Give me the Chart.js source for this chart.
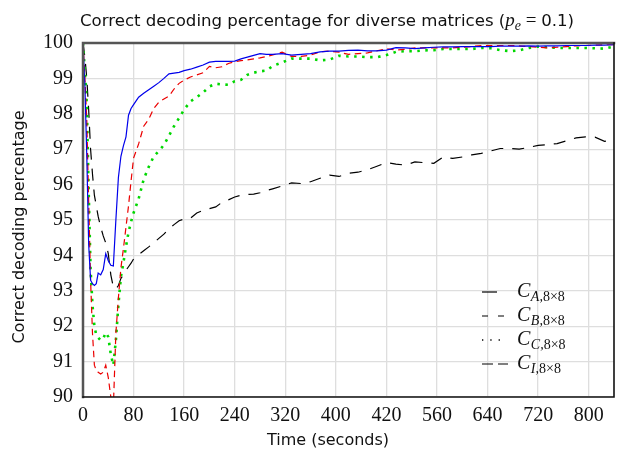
<!DOCTYPE html>
<html>
<head>
<meta charset="utf-8">
<script src="https://cdn.jsdelivr.net/npm/chart.js@4.4.1/dist/chart.umd.min.js"></script>
<style>
  html, body { margin: 0; padding: 0; background: #fff; }
  #wrap { width: 617px; height: 450px; }
</style>
</head>
<body>
<div id="wrap"><canvas id="chart1" width="617" height="450"></canvas></div>
<script>
// Tiempos de muestreo (segundos)
const times = [
    0, 3, 6, 9, 12, 15, 18, 21, 24, 28, 32, 36, 40, 44, 48, 52, 56, 60, 64, 68, 72, 76, 80,
    88, 96, 104, 112, 120, 128, 136, 144, 152, 160,
    170, 180, 190, 200, 210, 220, 230, 240, 250, 260, 270, 280, 290, 300,
    315, 330, 345, 360, 375, 390, 405, 420, 435, 450, 465, 480, 495, 510, 525, 540, 555, 570, 585, 600,
    615, 630, 645, 660, 675, 690, 705, 720, 735, 750, 765, 780, 795, 810, 825, 840
];

// C_A (azul, continua)
const seriesA = [
    100, 98.8, 96.8, 94.3, 93.3, 93.2, 93.15, 93.2, 93.5, 93.45, 93.6, 94.05, 93.85, 93.72, 93.7, 95.0, 96.2, 96.8, 97.1, 97.35, 97.96, 98.15, 98.26,
    98.47, 98.58, 98.68, 98.78, 98.88, 99.0, 99.13, 99.15, 99.17, 99.22,
    99.26, 99.32, 99.38, 99.46, 99.48, 99.48, 99.48, 99.49, 99.55, 99.6, 99.65, 99.7, 99.68, 99.68,
    99.7, 99.66, 99.68, 99.7, 99.75, 99.77, 99.77, 99.79, 99.8, 99.78, 99.78, 99.8, 99.87, 99.86, 99.84, 99.86, 99.88, 99.89, 99.89, 99.9,
    99.9, 99.9, 99.9, 99.91, 99.91, 99.91, 99.92, 99.91, 99.92, 99.92, 99.93, 99.93, 99.93, 99.94, 99.94, 99.95
];

// C_B (rojo, discontinua)
const seriesB = [
    100, 99.0, 97.8, 95.5, 93.3, 91.8, 90.9, 90.75, 90.7, 90.65, 90.7, 90.9, 90.55, 90.0, 89.7, 91.8, 92.8, 93.65, 94.2, 94.8, 95.4, 96.1, 96.75,
    97.15, 97.65, 97.85, 98.15, 98.33, 98.42, 98.5, 98.7, 98.86, 98.95,
    99.04, 99.1, 99.16, 99.34, 99.3, 99.33, 99.42, 99.47, 99.5, 99.52, 99.55, 99.58, 99.62, 99.66,
    99.74, 99.62, 99.62, 99.66, 99.75, 99.77, 99.74, 99.68, 99.7, 99.72, 99.78, 99.84, 99.8, 99.82, 99.86, 99.86, 99.86, 99.86, 99.86, 99.88,
    99.9, 99.93, 99.93, 99.93, 99.93, 99.92, 99.9, 99.88, 99.86, 99.88, 99.9, 99.92, 99.93, 99.94, 99.95, 99.95
];

// C_C (verde, punteada)
const seriesC = [
    100, 99.2, 98.3, 95.8, 93.6, 92.6, 92.0, 91.75, 91.68, 91.6, 91.65, 91.82, 91.7, 91.2, 90.9, 91.6, 92.6, 93.4, 93.8, 94.25, 94.65, 94.95, 95.2,
    95.6, 96.15, 96.5, 96.8, 96.95, 97.12, 97.38, 97.65, 97.88, 98.12,
    98.35, 98.47, 98.6, 98.77, 98.85, 98.83, 98.82, 98.92, 98.96, 99.1, 99.16, 99.2, 99.22, 99.35,
    99.45, 99.56, 99.56, 99.56, 99.51, 99.53, 99.64, 99.62, 99.62, 99.6, 99.6, 99.66, 99.75, 99.77, 99.77, 99.79, 99.8, 99.83, 99.83, 99.83,
    99.83, 99.86, 99.85, 99.8, 99.77, 99.79, 99.86, 99.9, 99.88, 99.86, 99.86, 99.86, 99.86, 99.85, 99.84, 99.9
];

// C_I (negro, discontinua larga)
const seriesI = [
    100, 99.6, 99.0, 98.1, 97.0, 96.3, 95.7, 95.4, 95.1, 94.8, 94.55, 94.35, 94.05, 93.45, 93.1, 93.05, 93.15, 93.35, 93.45, 93.58, 93.68, 93.78, 93.9,
    94.02, 94.13, 94.24, 94.36, 94.48, 94.6, 94.75, 94.87, 94.98, 95.03,
    95.05, 95.2, 95.27, 95.32, 95.37, 95.5, 95.57, 95.65, 95.7, 95.72, 95.73, 95.77, 95.83, 95.88,
    95.96, 96.05, 96.03, 96.08, 96.18, 96.27, 96.23, 96.32, 96.35, 96.42, 96.52, 96.62, 96.58, 96.55, 96.64, 96.62, 96.6, 96.78, 96.74, 96.78,
    96.84, 96.88, 96.95, 97.02, 97.02, 97.0, 97.05, 97.11, 97.13, 97.16, 97.24, 97.32, 97.35, 97.34, 97.22, 97.27
];

// Ticks del eje x (la etiqueta "420" esta asi en el original)
const xTicks = [0, 80, 160, 240, 320, 400, 480, 560, 640, 720, 800];
const xTickLabels = ['0', '80', '160', '240', '320', '400', '420', '560', '640', '720', '800'];
const yTicks = [90, 91, 92, 93, 94, 95, 96, 97, 98, 99, 100];

const legendSubs = ['A', 'B', 'C', 'I'];

const SANS = "'DejaVu Sans', sans-serif";
const SERIF = "'Liberation Serif', serif";

function points(vals) {
    return times.map((t, i) => ({ x: t, y: vals[i] }));
}

const styles = [
    { color: 'rgb(0,0,235)', dash: [], width: 1.2, legDash: [], legLen: 15, legW: 1.2 },
    { color: 'rgb(235,0,0)', dash: [6.5, 4.5], width: 1.2, legDash: [6, 10], legLen: 23, legW: 1.2 },
    { color: 'rgb(0,215,0)', dash: [2.5, 5.5], width: 2.6, legDash: [1.3, 7], legLen: 20, legW: 1.3 },
    { color: 'rgb(0,0,0)', dash: [12, 9], width: 1.2, legDash: [11, 5], legLen: 26, legW: 1.2 }
];

const allSeries = [seriesA, seriesB, seriesC, seriesI];

// Marco, titulos y leyenda
const decor = {
    id: 'decor',
    afterDraw(chart) {
        const ctx = chart.ctx;
        const a = chart.chartArea;
        ctx.save();

        // marco
        ctx.lineCap = 'square';
        ctx.strokeStyle = '#555';
        ctx.lineWidth = 2.5;
        ctx.beginPath();
        ctx.moveTo(a.left, a.bottom);
        ctx.lineTo(a.left, a.top);
        ctx.lineTo(a.right, a.top);
        ctx.stroke();
        ctx.strokeStyle = '#111';
        ctx.lineWidth = 1.6;
        ctx.beginPath();
        ctx.moveTo(a.right, a.top);
        ctx.lineTo(a.right, a.bottom);
        ctx.lineTo(a.left, a.bottom);
        ctx.stroke();

        ctx.fillStyle = '#111';
        ctx.textBaseline = 'alphabetic';
        ctx.textAlign = 'left';

        // titulo
        let x = 80, y = 26;
        const parts = [
            ['Correct decoding percentage for diverse matrices (', '16.6px ' + SANS, 0],
            ['p', 'italic 19px ' + SERIF, 0],
            ['e', 'italic 14px ' + SERIF, 4],
            [' = ', '19px ' + SERIF, 0],
            ['0.1)', '16.6px ' + SANS, 0]
        ];
        parts.forEach(p => {
            ctx.font = p[1];
            ctx.fillText(p[0], x, y + p[2]);
            x += ctx.measureText(p[0]).width;
        });

        // titulo eje x
        ctx.font = '16px ' + SANS;
        ctx.textAlign = 'center';
        ctx.fillText('Time (seconds)', 328, 445);

        // titulo eje y
        ctx.save();
        ctx.translate(24, 227);
        ctx.rotate(-Math.PI / 2);
        ctx.fillText('Correct decoding percentage', 0, 0);
        ctx.restore();

        // leyenda
        ctx.textAlign = 'left';
        legendSubs.forEach((s, i) => {
            const st = styles[i];
            const by = 297 + i * 24;
            ctx.strokeStyle = '#000';
            ctx.lineWidth = st.legW;
            ctx.lineCap = 'butt';
            ctx.setLineDash(st.legDash);
            ctx.beginPath();
            ctx.moveTo(482, by - 5);
            ctx.lineTo(482 + st.legLen, by - 5);
            ctx.stroke();
            ctx.setLineDash([]);

            let lx = 517;
            ctx.font = 'italic 20px ' + SERIF;
            ctx.fillText('C', lx, by);
            lx += ctx.measureText('C').width + 0.5;
            ctx.font = 'italic 14px ' + SERIF;
            ctx.fillText(s + ',', lx, by + 4);
            lx += ctx.measureText(s + ',').width;
            ctx.font = '14px ' + SERIF;
            ctx.fillText('8×8', lx, by + 4);
        });

        ctx.restore();
    }
};

new Chart(document.getElementById('chart1'), {
    type: 'line',
    data: {
        datasets: allSeries.map((vals, i) => ({
            label: 'C' + legendSubs[i],
            data: points(vals),
            borderColor: styles[i].color,
            borderWidth: styles[i].width,
            borderDash: styles[i].dash,
            pointRadius: 0,
            tension: 0,
            fill: false
        }))
    },
    options: {
        responsive: false,
        animation: false,
        layout: { padding: { top: 43, right: 3, left: 0, bottom: 0 } },
        plugins: {
            legend: { display: false },
            title: { display: false },
            tooltip: { enabled: false }
        },
        scales: {
            x: {
                type: 'linear',
                min: 0,
                max: 840,
                afterBuildTicks: s => { s.ticks = xTicks.map(v => ({ value: v })); },
                afterFit: s => { s.height = 53; },
                grid: { color: '#dedede', lineWidth: 1.3, drawTicks: false },
                border: { display: false },
                ticks: {
                    callback: (v, i) => xTickLabels[i],
                    autoSkip: false,
                    maxRotation: 0,
                    padding: 7,
                    color: '#111',
                    font: { family: SERIF, size: 20 }
                }
            },
            y: {
                min: 90,
                max: 100,
                afterBuildTicks: s => { s.ticks = yTicks.map(v => ({ value: v })); },
                afterFit: s => { s.width = 83; },
                grid: { color: '#dedede', lineWidth: 1.3, drawTicks: false },
                border: { display: false },
                ticks: {
                    padding: 10,
                    color: '#111',
                    font: { family: SERIF, size: 20 }
                }
            }
        }
    },
    plugins: [decor]
});
</script>
</body>
</html>
